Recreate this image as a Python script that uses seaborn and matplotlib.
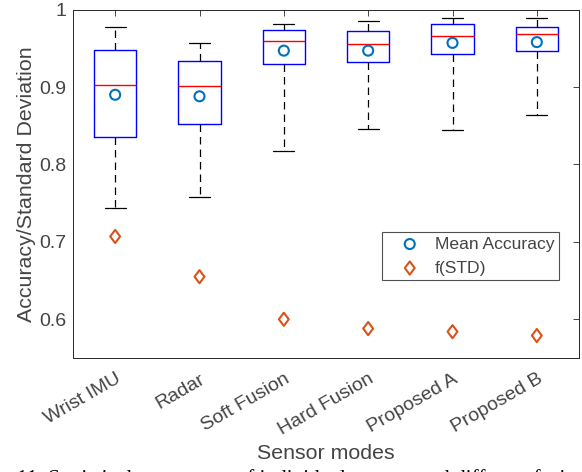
import numpy as np
import pandas as pd
import matplotlib
matplotlib.use("Agg")
import matplotlib.pyplot as plt
import matplotlib.transforms as mtrans
from matplotlib.path import Path
from matplotlib.ticker import FuncFormatter
import seaborn as sns

# ---- data ----
modes = ["Wrist IMU", "Radar", "Soft Fusion", "Hard Fusion", "Proposed A", "Proposed B"]
whisker_low = [0.744, 0.758, 0.818, 0.846, 0.845, 0.864]
quartile_1 = [0.836, 0.852, 0.930, 0.932, 0.943, 0.946]
median_acc = [0.903, 0.901, 0.959, 0.955, 0.966, 0.968]
quartile_3 = [0.948, 0.933, 0.974, 0.973, 0.981, 0.977]
whisker_high = [0.978, 0.957, 0.982, 0.985, 0.989, 0.989]
mean_acc = [0.890, 0.888, 0.947, 0.947, 0.957, 0.958]
f_std = [0.707, 0.655, 0.600, 0.588, 0.584, 0.579]
y_ticks = [0.6, 0.7, 0.8, 0.9, 1.0]

rows = []
for i, m in enumerate(modes):
    for v in (whisker_low[i], quartile_1[i], median_acc[i], quartile_3[i], whisker_high[i]):
        rows.append({"mode": m, "value": v})
df = pd.DataFrame(rows)
pts = pd.DataFrame({"pos": np.arange(len(modes)), "mean": mean_acc, "fstd": f_std})

sns.set_theme(style="white")
plt.rcParams["font.family"] = ["Liberation Sans", "DejaVu Sans"]
TXT = "#444444"
AX = "#262626"

fig = plt.figure(figsize=(5.82, 4.72), dpi=100)
ax = fig.add_axes([73 / 582, 1 - 358 / 472, 506 / 582, (358 - 9.6) / 472])

sns.boxplot(data=df, x="mode", y="value", order=modes, whis=(0, 100), width=0.5,
            fill=False, linecolor="#0000FF", linewidth=1.0, showfliers=False,
            boxprops=dict(color="#0000FF", linewidth=1.0),
            medianprops=dict(color="#FF0000", linewidth=1.0),
            whiskerprops=dict(color="black", linewidth=0.9, linestyle=(0, (6, 4))),
            capprops=dict(color="black", linewidth=0.9),
            ax=ax)

diamond = Path([(0, 1), (0.75, 0), (0, -1), (-0.75, 0), (0, 1)],
               [Path.MOVETO, Path.LINETO, Path.LINETO, Path.LINETO, Path.CLOSEPOLY])

sns.scatterplot(data=pts, x="pos", y="mean", marker="o", s=52, facecolors="none",
                edgecolor="#0072BD", linewidth=1.5, label="Mean Accuracy", ax=ax, zorder=5)
sns.scatterplot(data=pts, x="pos", y="fstd", marker=diamond, s=90, facecolors="none",
                edgecolor="#D95319", linewidth=1.5, label="f(STD)", ax=ax, zorder=5)

ax.set_xlim(-0.5, len(modes) - 0.5)
ax.set_ylim(0.55, 1.0)
ax.set_yticks(y_ticks)
ax.yaxis.set_major_formatter(FuncFormatter(lambda v, p: f"{v:g}"))
ax.set_xticks(np.arange(len(modes)))
ax.set_xticklabels(modes, rotation=30, ha="right", va="top", rotation_mode="anchor")
offset = mtrans.ScaledTranslation(6 / 100, 0, fig.dpi_scale_trans)
for lab in ax.get_xticklabels():
    lab.set_transform(lab.get_transform() + offset)

ax.tick_params(axis="both", direction="in", length=4, width=0.6, colors=AX,
               labelcolor=TXT, labelsize=14, top=True, right=True)
ax.tick_params(axis="x", pad=9)
ax.tick_params(axis="y", pad=5)
for s in ax.spines.values():
    s.set_visible(True)
    s.set_color(AX)
    s.set_linewidth(0.7)

ax.set_xlabel("Sensor modes", fontsize=15.4, color=TXT, labelpad=4)
ax.set_ylabel("Accuracy/Standard Deviation", fontsize=15.4, color=TXT, labelpad=2)

leg = ax.legend(loc="upper right", bbox_to_anchor=((559 - 73) / 506, (358 - 232) / 348.4),
                borderaxespad=0, fontsize=12.6, frameon=True, fancybox=False,
                borderpad=0.25, handlelength=2.7, handletextpad=0.1, labelspacing=0.5)
leg.get_frame().set_edgecolor("#262626")
leg.get_frame().set_linewidth(0.8)
for t in leg.get_texts():
    t.set_color(TXT)

fig.text(17 / 582, 1 - 484 / 472,
         "11. Statistical parameters of individual sensors and different fusion",
         family=["Liberation Serif", "DejaVu Serif"], fontsize=15.3, color="black",
         ha="left", va="baseline")

fig.savefig("out.png", dpi=100)
